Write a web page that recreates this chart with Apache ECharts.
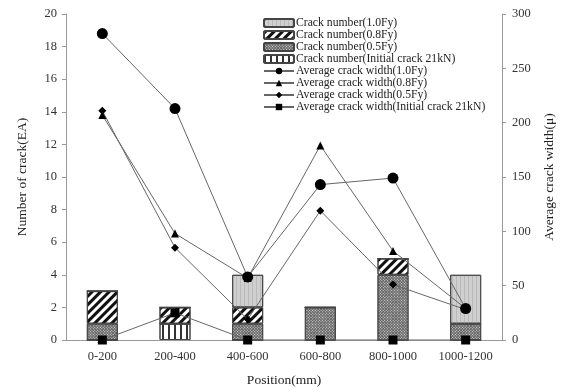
<!DOCTYPE html>
<html>
<head>
<meta charset="utf-8">
<script src="https://cdn.jsdelivr.net/npm/echarts@6/dist/echarts.min.js"></script>
<style>html,body{margin:0;padding:0;background:#fff}#c{width:568px;height:392px}</style>
</head>
<body>
<div id="c"></div>
<script>
var categories = ['0-200','200-400','400-600','600-800','800-1000','1000-1200'];
// stacked crack-number segments (EA)
var crackInitial = [0,1,0,0,0,0];
var crack05 = [1,0,1,2,4,1];
var crack08 = [2,1,1,0,1,0];
var crack10 = [0,0,2,0,0,3];
// average crack widths (right axis)
var width10 = [282,213,58,143,149,29];
var width08 = [207,98,57,179,82,29];
var width05 = [211,85,19,119,51,28];
var widthInit = [0,25,0,0,0,0];
var leftTicks = {min:0,max:20,interval:2};
var rightTicks = {min:0,max:300,interval:50};

var FONT = '"Liberation Serif","Times New Roman",serif';
var chart = echarts.init(document.getElementById('c'));
var barBorder = {borderColor:'#444', borderWidth:1};
function barSeries(name, data, color, decal){
  return {name:name, type:'bar', stack:'n', yAxisIndex:0, data:data, barWidth:31,
    itemStyle:Object.assign({color:color, decal:decal}, barBorder), z:2};
}
function lineSeries(name, data, symbol, size){
  return {name:name, type:'line', yAxisIndex:1, data:data, symbol:symbol, symbolSize:size,
    lineStyle:{color:'#666', width:1}, itemStyle:{color:'#000'}, z:5};
}
chart.setOption({
  animation:false,
  textStyle:{fontFamily:FONT},
  grid:{left:66, right:66, top:14, bottom:42},
  legend:{
    orient:'vertical', left:263, top:17, itemWidth:30, itemHeight:8, itemGap:0, padding:0,
    textStyle:{fontFamily:FONT, fontSize:11.7, lineHeight:12, color:'#222', padding:[0,0,0,-3]},
    data:['Crack number(1.0Fy)','Crack number(0.8Fy)','Crack number(0.5Fy)','Crack number(Initial crack 21kN)',
      'Average crack width(1.0Fy)','Average crack width(0.8Fy)','Average crack width(0.5Fy)','Average crack width(Initial crack 21kN)']
  },
  xAxis:{type:'category', data:categories,
    axisLine:{lineStyle:{color:'#999'}}, axisTick:{show:false},
    axisLabel:{fontFamily:FONT, fontSize:12.5, color:'#333', margin:10},
    name:'Position(mm)', nameLocation:'middle', nameGap:33,
    nameTextStyle:{fontFamily:FONT, fontSize:13.5, color:'#222'}},
  yAxis:[
    {type:'value', min:leftTicks.min, max:leftTicks.max, interval:leftTicks.interval,
      axisLine:{show:true, lineStyle:{color:'#999'}}, axisTick:{show:true, length:4, lineStyle:{color:'#999'}},
      splitLine:{show:false}, axisLabel:{fontFamily:FONT, fontSize:12.5, color:'#333', margin:9},
      name:'Number of crack(EA)', nameLocation:'middle', nameGap:37,
      nameTextStyle:{fontFamily:FONT, fontSize:13.5, color:'#222'}},
    {type:'value', min:rightTicks.min, max:rightTicks.max, interval:rightTicks.interval,
      axisLine:{show:true, lineStyle:{color:'#999'}}, axisTick:{show:true, length:4, lineStyle:{color:'#999'}},
      splitLine:{show:false}, axisLabel:{fontFamily:FONT, fontSize:12.5, color:'#333', margin:10},
      name:'Average crack width(\u03bc)', nameLocation:'middle', nameGap:40, nameRotate:90,
      nameTextStyle:{fontFamily:FONT, fontSize:13.5, color:'#222'}}
  ],
  series:[
    barSeries('Crack number(Initial crack 21kN)', crackInitial, '#fff',
      {symbol:'rect', symbolSize:1, color:'#333', dashArrayX:[1.5,3.5], dashArrayY:[1,0]}),
    barSeries('Crack number(0.5Fy)', crack05, '#666',
      {symbol:'rect', symbolSize:1, color:'#d8d8d8', dashArrayX:[1,1], dashArrayY:[1,1], rotation:Math.PI/4}),
    barSeries('Crack number(0.8Fy)', crack08, '#fff',
      {symbol:'rect', symbolSize:1, color:'#111', dashArrayX:[1,0], dashArrayY:[2.5,2.5], rotation:-Math.PI/4}),
    barSeries('Crack number(1.0Fy)', crack10, '#cfcfcf',
      {symbol:'rect', symbolSize:1, color:'#bababa', dashArrayX:[1,3], dashArrayY:[1,0]}),
    lineSeries('Average crack width(1.0Fy)', width10, 'circle', 11),
    lineSeries('Average crack width(0.8Fy)', width08, 'triangle', 8),
    lineSeries('Average crack width(0.5Fy)', width05, 'diamond', 8),
    lineSeries('Average crack width(Initial crack 21kN)', widthInit, 'rect', 9)
  ]
});
</script>
</body>
</html>
